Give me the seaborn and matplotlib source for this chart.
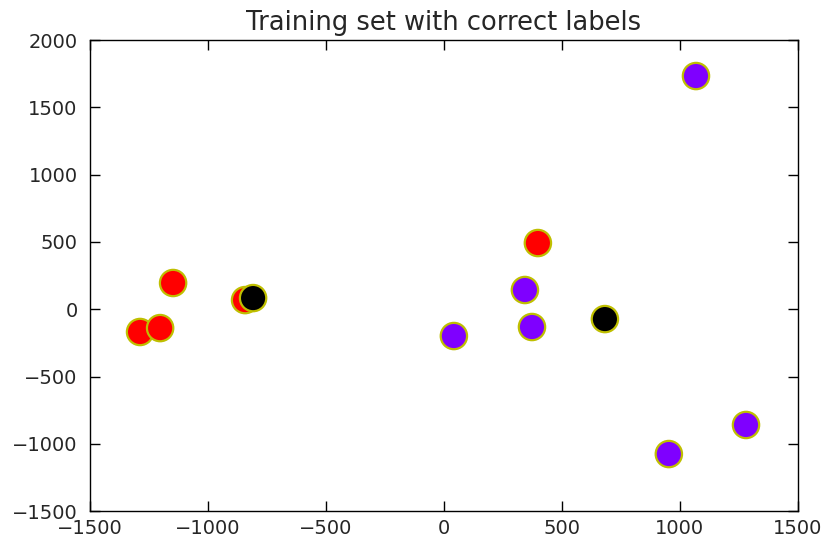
import pandas as pd
import matplotlib
matplotlib.use("Agg")
import matplotlib.pyplot as plt
import seaborn as sns

# --- Data ---
x_vals = [42, 343, 373, 1068, 953, 1280,          # purple
          -1288, -1203, -1148, -843, 398,          # red
          -809, 682]                               # black
y_vals = [-199, 143, -132, 1733, -1076, -860,
          -169, -140, 195, 68, 492,
          83, -73]
labels = ["A"] * 6 + ["B"] * 5 + ["C"] * 2

COLOR_MAP = {"A": "#7f00ff", "B": "#ff0000", "C": "#000000"}

df = pd.DataFrame({"x": x_vals, "y": y_vals, "label": labels})

sns.set_style("ticks", {"xtick.direction": "in", "ytick.direction": "in",
                        "axes.edgecolor": "black"})
plt.rcParams["font.family"] = ["DejaVu Sans"]

fig = plt.figure(figsize=(8.26, 5.42), dpi=100)
ax = fig.add_subplot(111)
fig.subplots_adjust(left=0.109, right=0.966, top=0.926, bottom=0.057)

sns.scatterplot(data=df, x="x", y="y", hue="label", palette=COLOR_MAP,
                s=360, edgecolor="#bfbf00", linewidth=1.6, legend=False, ax=ax)

ax.set_xlim(-1500, 1500)
ax.set_ylim(-1500, 2000)
ax.set_xticks(range(-1500, 1501, 500))
ax.set_yticks(range(-1500, 2001, 500))
ax.tick_params(axis="x", pad=6)
ax.tick_params(axis="y", pad=9)
ax.tick_params(axis="both", which="both", direction="in", top=True, right=True,
               length=7, width=1, labelsize=14, color="black", labelcolor="#262626")
for sp in ax.spines.values():
    sp.set_visible(True)
    sp.set_linewidth(1.0)
    sp.set_color("black")
ax.set_xlabel("")
ax.set_ylabel("")
ax.set_title("Training set with correct labels", fontsize=18.5, color="#262626", pad=7)

plt.savefig("out.png", dpi=100)
plt.close()
